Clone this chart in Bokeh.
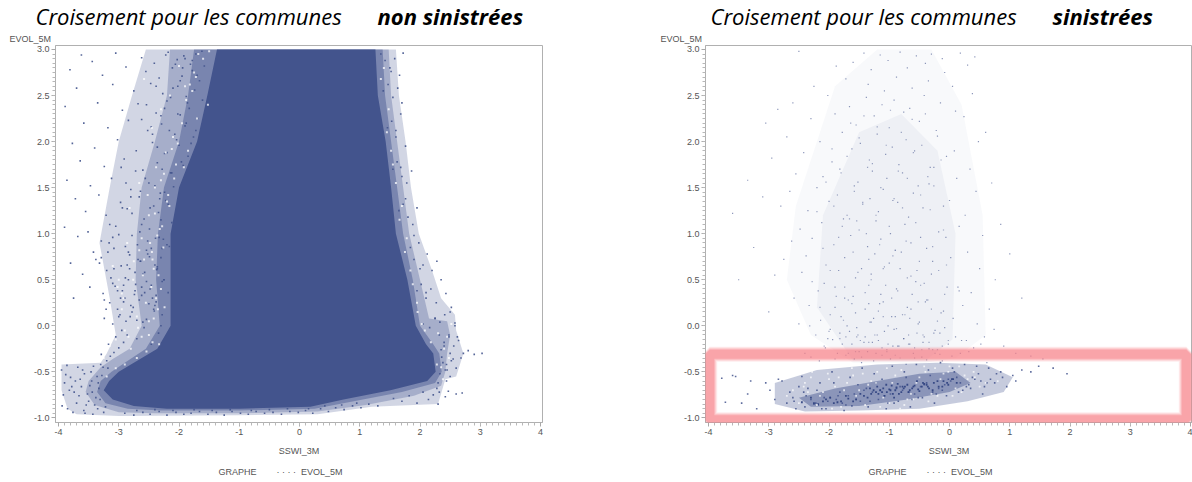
from bokeh.plotting import figure
from bokeh.layouts import row
from bokeh.embed import file_html
from bokeh.resources import INLINE
from bokeh.models import FixedTicker, BoxAnnotation, Range1d, Title

BLUE = "#43548D"
x_ticks = [-4, -3, -2, -1, 0, 1, 2, 3, 4]
y_ticks = [-1.0, -0.5, 0.0, 0.5, 1.0, 1.5, 2.0, 2.5, 3.0]
y_tick_labels = ["-1.0", "-0.5", "0.0", "0.5", "1.0", "1.5", "2.0", "2.5", "3.0"]

# left panel: solid part of the cloud, outline
dense_x = [-1.37, 1.26, 1.30, 1.43, 1.52, 1.60, 1.79, 1.93, 2.10, 2.22, 2.26, 2.12, 1.51, 0.73, 0.18, -1.0, -2.2, -2.75, -3.1, -3.25, -3.16, -3.0, -2.75, -2.36, -2.14, -2.14, -2.14, -2.0, -1.7, -1.53]
dense_y = [3.0, 3.0, 2.5, 2.0, 1.5, 1.0, 0.5, 0.0, -0.2, -0.3, -0.5, -0.6, -0.7, -0.8, -0.88, -0.9, -0.9, -0.87, -0.8, -0.7, -0.6, -0.5, -0.4, -0.25, 0.0, 0.5, 1.0, 1.5, 2.0, 2.5]
# left panel: three half-tone limits around it, from heavy to faint
heavy_x = [-1.75, 1.38, 1.42, 1.52, 1.62, 1.72, 1.88, 2.0, 2.22, 2.32, 2.36, 2.25, 1.7, 0.9, 0.25, -1.0, -2.3, -2.85, -3.22, -3.36, -3.3, -3.12, -2.9, -2.55, -2.32, -2.38, -2.35, -2.25, -2.0, -1.85]
heavy_y = [3.0, 3.0, 2.5, 2.0, 1.5, 1.0, 0.5, 0.0, -0.2, -0.3, -0.5, -0.62, -0.72, -0.82, -0.9, -0.92, -0.92, -0.9, -0.84, -0.72, -0.6, -0.5, -0.4, -0.25, 0.0, 0.5, 1.0, 1.5, 2.0, 2.5]
mid_x = [-2.15, 1.48, 1.52, 1.62, 1.72, 1.82, 2.0, 2.15, 2.45, 2.5, 2.45, 2.42, 2.35, 1.9, 1.1, 0.3, -1.0, -2.4, -3.0, -3.4, -3.55, -3.5, -3.3, -3.1, -2.82, -2.62, -2.72, -2.7, -2.62, -2.4, -2.2]
mid_y = [3.0, 3.0, 2.5, 2.0, 1.5, 1.0, 0.5, 0.08, 0.05, -0.1, -0.3, -0.5, -0.65, -0.76, -0.86, -0.93, -0.95, -0.95, -0.94, -0.86, -0.72, -0.6, -0.45, -0.36, -0.25, 0.0, 0.5, 1.0, 1.5, 2.0, 2.5]
light_x = [-2.55, 1.6, 1.65, 1.76, 1.85, 1.98, 2.2, 2.35, 2.58, 2.6, 2.72, 2.6, 2.42, 2.3, 1.2, 0.3, -1.0, -3.0, -3.7, -3.85, -3.95, -3.95, -3.3, -3.2, -3.05, -3.15, -3.32, -3.15, -3.0, -2.78]
light_y = [3.0, 3.0, 2.5, 2.0, 1.5, 1.0, 0.6, 0.3, 0.12, -0.05, -0.3, -0.55, -0.58, -0.85, -0.88, -0.96, -0.97, -0.98, -0.96, -0.9, -0.7, -0.42, -0.4, -0.3, -0.1, 0.3, 0.9, 1.5, 2.0, 2.5]

# left panel: dots read in the upper-left fringe
ul_x = [-3.62,-3.44,-3.05,-2.62,-2.41,-2.18,-2.03,-1.92,-1.81,-1.72,-3.81,-3.27,-2.88,-2.55,-2.33,-2.11,-1.95,-1.78,-1.66,-1.58,-3.7,-3.1,-2.75,-2.47,-2.27,-2.02,-1.88,-1.74,-1.61,-3.89,-3.35,-2.94,-2.68,-2.38,-2.2,-1.98,-1.83,-1.69,-1.57,-3.58,-3.18,-2.84,-2.52,-2.29,-2.07,-1.9,-1.76,-3.77,-3.4,-3.02,-2.71,-2.44,-2.24,-2.0,-1.85,-3.64,-3.24,-2.91,-2.6,-2.36,-2.14,-1.93,-1.8,-3.86,-3.47,-3.12,-2.8,-2.5,-2.31,-2.09,-3.72,-3.33,-2.97,-2.66,-2.42,-2.22,-3.55,-3.21,-2.86,-2.58,-2.34,-2.12,-3.9,-3.51,-3.15,-2.78,-2.49,-2.26,-3.68,-3.29,-3.0,-2.69,-2.39,-2.16,-3.42,-3.08,-2.82,-2.54,-2.3,-3.8,-3.38,-2.96,-2.64,-2.37,-3.6,-3.2,-2.89,-2.57,-2.28,-3.48,-3.1,-2.73,-2.46,-3.75,-3.26,-2.92,-2.62,-2.4]
ul_y = [2.94,2.87,2.96,2.91,2.85,2.97,2.89,2.93,2.84,2.95,2.78,2.72,2.81,2.76,2.69,2.8,2.71,2.77,2.66,2.82,2.58,2.62,2.55,2.63,2.52,2.6,2.49,2.56,2.45,2.38,2.42,2.34,2.41,2.31,2.44,2.29,2.36,2.25,2.32,2.2,2.15,2.23,2.12,2.19,2.08,2.17,2.05,1.98,1.93,2.02,1.9,1.99,1.87,1.96,1.84,1.79,1.73,1.81,1.69,1.77,1.66,1.74,1.62,1.58,1.52,1.6,1.48,1.55,1.44,1.51,1.38,1.42,1.34,1.4,1.3,1.36,1.24,1.2,1.27,1.16,1.23,1.12,1.07,1.02,1.1,0.98,1.05,0.94,0.97,0.92,0.99,0.88,0.95,0.86,0.8,0.84,0.77,0.82,0.74,0.68,0.72,0.65,0.7,0.61,0.56,0.6,0.52,0.58,0.48,0.42,0.46,0.38,0.44,0.3,0.35,0.26,0.33,0.22]
# left panel: dots read in the lower-left fringe
ll_x = [-3.95,-3.9,-3.86,-3.8,-3.74,-3.68,-3.62,-3.57,-3.5,-3.45,-3.42,-3.38,-3.33,-3.28,-3.22,-3.18,-3.92,-3.85,-3.78,-3.7,-3.64,-3.58,-3.52,-3.46,-3.4,-3.34,-3.3,-3.25,-3.88,-3.82,-3.76,-3.66,-3.6,-3.54,-3.48,-3.43,-3.36,-3.31,-3.94,-3.72,-3.56,-3.44,-3.35,-3.26,-3.2,-3.14,-3.08,-3.0,-2.92,-3.29,-3.17,-3.05,-2.95,-3.24,-3.1,-2.98,-2.88,-3.15,-3.02,-2.9,-2.8,-3.06,-2.94,-2.84,-2.72,-2.6,-2.48,-2.36,-2.25,-2.18,-2.78,-2.66,-2.54,-2.42,-2.3,-2.86,-2.7,-2.58,-2.46,-2.34,-2.22,-2.74,-2.62,-2.5,-2.38,-2.82,-2.64,-2.52,-2.4,-2.28]
ll_y = [-0.48,-0.62,-0.43,-0.56,-0.72,-0.45,-0.66,-0.52,-0.82,-0.6,-0.44,-0.78,-0.68,-0.54,-0.88,-0.46,-0.75,-0.9,-0.66,-0.84,-0.58,-0.92,-0.74,-0.5,-0.86,-0.62,-0.42,-0.94,-0.53,-0.7,-0.94,-0.76,-0.48,-0.86,-0.65,-0.96,-0.55,-0.8,-0.87,-0.6,-0.95,-0.72,-0.9,-0.45,-0.38,-0.33,-0.29,-0.24,-0.18,-0.31,-0.2,-0.12,-0.05,0.08,0.02,0.12,0.05,0.25,0.18,0.3,0.22,0.43,0.38,0.5,0.45,0.56,0.4,0.62,0.5,0.36,0.15,0.28,0.07,0.18,0.0,-0.1,-0.14,-0.02,-0.2,-0.08,-0.16,0.34,0.42,0.24,0.33,0.62,0.7,0.78,0.66,0.84]
# left panel: dots read along the lower edge
be_x = [-2.9,-2.75,-2.6,-2.48,-2.33,-2.2,-2.05,-1.92,-1.8,-1.66,-1.52,-1.38,-1.25,-1.12,-0.98,-0.85,-0.72,-0.58,-0.44,-0.3,-0.16,-0.02,0.1,0.22,0.35,0.48,0.6,0.74,0.88,1.02,1.15,1.3,-2.7,-2.4,-2.1,-1.75,-1.45,-1.15,-0.8,-0.5,-0.2,0.15,0.42,0.7,0.95]
be_y = [-0.95,-0.97,-0.94,-0.96,-0.93,-0.97,-0.94,-0.96,-0.95,-0.93,-0.96,-0.94,-0.97,-0.93,-0.95,-0.96,-0.93,-0.95,-0.94,-0.96,-0.93,-0.94,-0.92,-0.95,-0.9,-0.93,-0.89,-0.91,-0.87,-0.89,-0.85,-0.87,-0.92,-0.91,-0.92,-0.91,-0.92,-0.91,-0.92,-0.91,-0.9,-0.9,-0.87,-0.86,-0.84]
# left panel: dots read in the right fringe
rf_x = [1.35,1.42,1.5,1.58,1.66,1.72,1.39,1.47,1.55,1.63,1.7,1.46,1.53,1.6,1.68,1.76,1.55,1.62,1.7,1.78,1.86,1.65,1.72,1.8,1.88,1.95,1.84,1.9,1.98,2.05,2.12,2.2,2.28,1.95,2.02,2.1,2.18,2.27,2.35,2.43,2.52,2.05,2.16,2.25,2.33,2.41,2.5,2.58,2.32,2.4,2.48,2.56,2.64,2.72,2.8,2.9,3.03,2.36,2.44,2.52,2.6,2.68,2.33,2.42,2.5,2.28,2.22,2.14,2.05,1.95,1.82,1.7,1.56,2.3,2.6,2.7,2.42,2.47]
rf_y = [2.95,2.88,2.8,2.9,2.72,2.96,2.55,2.62,2.48,2.58,2.42,2.15,2.22,2.05,2.3,1.95,1.7,1.78,1.62,1.55,1.68,1.25,1.32,1.18,1.1,1.28,0.85,0.72,0.9,0.66,0.78,0.6,0.7,0.38,0.45,0.3,0.4,0.25,0.5,0.35,0.2,0.02,-0.02,0.08,0.04,0.12,0.15,0.03,-0.1,-0.18,-0.12,-0.22,-0.16,-0.3,-0.27,-0.31,-0.3,-0.34,-0.42,-0.38,-0.46,-0.35,-0.52,-0.48,-0.55,-0.68,-0.75,-0.8,-0.72,-0.84,-0.76,-0.82,-0.79,-0.85,-0.74,-0.73,-0.77,-0.71]
# left panel: more dots read on the side of the half-tone part
ed_x = [-2.2,-2.28,-2.36,-2.44,-2.52,-2.6,-2.68,-2.76,-2.84,-2.92,-3.0,-3.08,-3.16,-3.24,-3.32,-2.25,-2.33,-2.41,-2.49,-2.57,-2.65,-2.73,-2.81,-2.89,-2.97,-3.05,-3.13,-3.21,-3.29,-2.3,-2.38,-2.46,-2.54,-2.62,-2.7,-2.78,-2.86,-2.94,-3.02,-3.1,-3.18,-2.18,-2.24,-2.32,-2.4,-2.48,-2.56,-2.64,-2.72,-2.8,-2.88,-2.96,-1.62,-1.7,-1.78,-1.86,-1.94,-2.02,-2.1,-2.16,-2.24,-1.72,-1.8,-1.88,-1.96,-2.04,-2.12,-2.2,-2.28,-2.36,-2.44,-1.9,-1.98,-2.06,-2.14,-2.22,-2.3,-2.38,-2.46,-2.54,-2.62,1.52,1.6,1.68,1.76,1.9,2.0,2.1,2.25,2.35,2.45,2.55,2.62,2.38,2.48,2.58,2.3,2.4,2.5,2.32,2.44]
ed_y = [0.88,0.12,0.64,0.3,0.92,0.04,0.72,0.2,0.8,0.44,0.1,0.62,0.9,0.28,0.68,0.5,0.96,0.16,0.75,0.36,1.02,0.58,0.1,0.86,0.3,1.08,0.52,0.18,0.74,1.15,0.26,0.84,0.48,1.1,0.06,1.22,0.66,1.28,0.38,0.96,0.8,1.32,1.45,1.38,1.52,1.28,1.6,1.46,1.68,1.4,1.55,1.72,2.98,2.72,2.88,2.42,2.8,2.3,2.58,2.12,2.36,2.12,1.98,2.2,1.78,2.02,1.66,1.88,1.7,1.94,2.08,2.9,2.66,2.84,2.48,2.94,2.28,2.6,2.16,2.4,2.24,2.76,2.12,1.72,1.38,0.98,0.62,0.36,0.08,-0.26,-0.48,-0.36,-0.12,-0.4,-0.1,0.0,-0.62,-0.22,-0.3,-0.72,-0.6]
# left panel: white gaps read inside the half-tone part
gap_x = [-1.6,-1.75,-1.9,-1.52,-1.7,-1.95,-2.1,-1.85,-2.05,-2.25,-2.4,-2.2,-2.5,-2.32,-2.62,-2.45,-2.75,-2.6,-2.3,-2.55,-2.7,-2.9,-3.05,-2.8,-2.95,-3.1,-3.25,1.4,1.48,1.52,1.6,1.66,1.75,1.88,1.95,2.03,2.3,2.4,2.48,2.35,2.45,2.52,-1.5,-1.68,-1.82,-2.0,-2.15,-2.3,-2.45,-2.58,-2.22,-2.38,-2.52,-2.66,-2.82,-2.48,-2.66,-2.86,-3.0,-2.95,-2.42,-2.58,-2.76,-2.92,-2.35,-2.5,-2.68,-2.84,-3.02,-3.15,-1.78,-1.88,-1.72,-2.12,-2.02,-1.92,-2.3,-2.18,-2.08,-2.4,-2.28,-2.16,-2.44,-2.36,-2.26,-2.46,-2.38,-2.34,-2.24,-2.5,-2.42,-2.33,-2.62,-2.54,-2.44,-2.9,-2.7,-3.05,-3.2,1.35,1.45,1.55,1.7,1.78,1.84,1.96,2.08,2.18,2.28,2.38]
gap_y = [2.9,2.75,2.6,2.4,2.25,2.2,2.05,1.9,1.75,1.65,1.5,1.35,1.2,1.05,0.95,0.8,0.7,0.55,0.4,0.25,0.1,-0.05,-0.15,-0.25,0.35,0.65,-0.35,2.8,2.35,1.9,1.55,1.15,0.8,0.45,0.25,0.02,-0.08,-0.25,-0.35,-0.45,-0.12,0.02,2.98,2.95,2.62,2.82,2.5,2.35,2.15,2.68,1.88,1.72,1.42,1.55,1.28,0.9,0.82,0.9,0.5,0.18,0.62,0.72,0.5,0.3,0.18,0.05,-0.02,-0.12,0.42,-0.22,2.55,2.45,2.7,1.92,1.98,1.72,1.58,1.42,1.6,1.22,1.08,1.3,0.72,0.98,0.85,0.42,0.3,0.55,0.2,-0.1,0.08,-0.2,-0.12,-0.28,-0.18,-0.42,-0.35,-0.46,-0.55,2.68,2.1,1.75,1.3,0.95,0.6,0.15,-0.05,-0.18,-0.42,-0.58]

# right panel: density outlines
blob_x = [-2.9, -2.2, -1.2, -0.2, 0.6, 1.05, 0.9, 0.3, -0.5, -1.5, -2.4, -2.9]
blob_y = [-0.62, -0.48, -0.42, -0.4, -0.42, -0.56, -0.72, -0.82, -0.9, -0.92, -0.93, -0.85]
core_x = [-2.5, -1.9, -1.2, -0.5, 0.1, 0.35, 0.0, -0.7, -1.5, -2.3]
core_y = [-0.78, -0.68, -0.6, -0.52, -0.5, -0.62, -0.72, -0.8, -0.87, -0.88]
cloud_x = [-2.55, -1.9, -1.2, -0.3, 0.2, 0.55, 0.6, 0.1, -0.4, -1.6, -2.3, -2.7]
cloud_y = [1.3, 2.6, 3.0, 3.0, 2.4, 1.2, -0.1, -0.35, -0.4, -0.4, -0.1, 0.5]
inner_x = [-2.1, -1.5, -0.8, -0.2, 0.1, 0.05, -0.4, -1.6, -2.2]
inner_y = [1.2, 2.1, 2.3, 1.9, 1.0, -0.15, -0.38, -0.38, 0.2]

# right panel: dots read in the upper cloud
uc_x = [-2.5,-1.42,-1.15,-0.82,-0.55,-0.3,-0.12,0.18,0.42,-1.88,-1.6,-1.3,-1.02,-0.7,-0.4,-0.08,0.3,-2.25,-1.72,-1.35,-1.08,-0.88,-0.62,-0.35,0.05,0.38,-2.85,-2.6,-2.02,-1.66,-1.38,-1.12,-0.92,-0.66,-0.42,-0.15,0.1,-3.05,-2.3,-1.9,-1.55,-1.25,-1.0,-0.76,-0.5,-0.22,0.24,0.6,-2.7,-2.15,-1.78,-1.48,-1.2,-0.95,-0.72,-0.46,-0.2,0.08,0.48,-2.95,-2.42,-1.95,-1.62,-1.33,-1.06,-0.84,-0.58,-0.32,-0.05,0.34,-3.35,-2.55,-2.1,-1.82,-1.52,-1.28,-1.04,-0.78,-0.52,-0.26,0.12,0.7,-3.1,-2.65,-2.2,-1.86,-1.58,-1.32,-1.1,-0.86,-0.6,-0.34,0.0,0.44,-3.6,-2.8,-2.35,-2.0,-1.7,-1.44,-1.18,-0.94,-0.68,-0.44,-0.1,0.26,0.85,-2.48,-2.12,-1.76,-1.5,-1.22,-0.98,-0.74,-0.48,-0.18,0.16,0.55,-3.25,-2.62,-2.28,-1.92,-1.64,-1.36,-1.14,-0.9,-0.64,-0.38,-0.06,0.3,1.0,-2.75,-2.38,-2.05,-1.74,-1.46,-1.24,-1.0,-0.8,-0.54,-0.28,0.02,0.5,-3.5,-2.9,-2.45,-2.08,-1.84,-1.56,-1.3,-1.06,-0.82,-0.56,-0.3,0.14,0.76,-2.58,-2.18,-1.9,-1.6,-1.34,-1.1,-0.88,-0.62,-0.36,-0.04,0.36,1.2,-3.0,-2.33,-1.98,-1.68,-1.4,-1.16,-0.96,-0.7,-0.4,-0.14,0.22,0.66,-2.5,-2.14,-1.8,-1.54,-1.26,-1.02,-0.78,-0.5,-0.24,0.06,0.46,-2.22,-1.94,-1.66,-1.42,-1.2,-0.92,-0.66,-0.42,-0.16,0.2,0.58,-2.4,-2.06,-1.78,-1.5,-1.28,-1.04,-0.84,-0.6,-0.34,-0.02,0.32,-2.3,-1.86,-1.58,-1.36,-1.12,-0.86,-0.58,-0.28,0.04,0.4,0.9,-2.16,-1.72,-1.46,-1.22,-0.98,-0.72,-0.46,-0.12,0.18,0.62,1.35,-2.02,-1.82,-1.62,-1.4,-1.18,-0.94,-0.68,-0.44,-0.2,0.1,0.52,-1.98,-1.7,-1.52,-1.3,-1.08,-0.76,-0.52,-0.26,-0.08,0.28,0.74,-1.9,-1.74,-1.56,-1.34,-1.14,-0.9,-0.64,-0.38,-0.1,0.16,1.1,1.55]
uc_y = [2.98,2.96,2.94,2.97,2.93,2.95,2.9,2.96,2.92,2.82,2.86,2.78,2.88,2.8,2.85,2.75,2.83,2.6,2.68,2.62,2.55,2.7,2.58,2.66,2.6,2.52,2.35,2.42,2.5,2.38,2.48,2.4,2.45,2.36,2.5,2.42,2.33,2.2,2.25,2.3,2.18,2.28,2.15,2.32,2.22,2.12,2.27,2.1,2.05,2.0,2.1,1.98,2.08,1.94,2.02,1.96,2.06,1.9,2.0,1.82,1.88,1.78,1.92,1.8,1.86,1.75,1.9,1.72,1.84,1.7,1.58,1.65,1.62,1.7,1.56,1.68,1.6,1.66,1.52,1.72,1.6,1.55,1.4,1.46,1.5,1.42,1.52,1.38,1.48,1.34,1.44,1.54,1.36,1.46,1.22,1.3,1.25,1.35,1.2,1.32,1.24,1.36,1.18,1.28,1.3,1.2,1.1,1.05,1.12,1.16,1.04,1.14,1.0,1.1,0.96,1.02,1.08,0.98,0.85,0.92,0.95,0.88,0.98,0.86,0.94,0.82,0.9,0.84,0.96,0.8,0.78,0.72,0.76,0.66,0.74,0.62,0.78,0.68,0.8,0.6,0.7,0.74,0.62,0.5,0.55,0.58,0.46,0.6,0.52,0.56,0.44,0.62,0.48,0.56,0.42,0.5,0.3,0.38,0.42,0.32,0.44,0.26,0.4,0.34,0.28,0.42,0.36,0.3,0.15,0.22,0.12,0.28,0.18,0.24,0.1,0.2,0.26,0.14,0.22,0.18,0.02,0.06,0.1,-0.02,0.08,0.0,0.12,0.04,-0.05,0.08,0.02,-0.1,-0.15,-0.06,-0.18,-0.1,-0.04,-0.2,-0.12,-0.08,-0.16,-0.12,-0.3,-0.24,-0.2,-0.28,-0.18,-0.26,-0.22,-0.3,-0.25,-0.2,-0.28,-0.34,-0.3,-0.36,-0.28,-0.32,-0.22,-0.35,-0.26,-0.33,-0.24,-0.22,-0.38,-0.32,-0.4,-0.3,-0.36,-0.42,-0.34,-0.38,-0.3,-0.4,-0.33,-0.14,-0.08,-0.2,-0.12,-0.16,-0.22,-0.1,-0.18,-0.26,-0.12,-0.2,-0.04,0.0,-0.1,0.04,-0.06,-0.14,0.02,-0.08,-0.02,-0.16,-0.04,0.2,0.3,0.14,0.24,0.34,0.1,0.18,0.28,0.16,0.38,-0.3,-0.36]
uc2_x = [-1.95,-1.7,-1.5,-1.28,-1.05,-0.85,-0.6,-0.36,-0.14,-2.05,-1.8,-1.58,-1.36,-1.14,-0.92,-0.7,-0.48,-0.26,-2.2,-1.92,-1.66,-1.44,-1.22,-1.0,-0.78,-0.56,-0.32,-0.1,-2.1,-1.84,-1.6,-1.38,-1.16,-0.94,-0.72,-0.5,-0.28,-0.05,-2.28,-1.98,-1.74,-1.52,-1.3,-1.08,-0.86,-0.64,-0.42,-0.18,-2.15,-1.88,-1.62,-1.4,-1.18,-0.96,-0.74,-0.52,-0.3,-0.08,-2.32,-2.0,-1.76,-1.54,-1.32,-1.1,-0.88,-0.66,-0.44,-0.2,-2.08,-1.82,-1.56,-1.34,-1.12,-0.9,-0.68,-0.46,-0.24,-0.02,-1.9,-1.68,-1.46,-1.26,-1.04,-0.82,-0.58,-0.38,-0.16,-1.72,-1.48,-1.24,-1.02,-0.76,-0.54,-0.34,-0.12,-1.64,-1.42,-1.2,-0.98,-0.8,-0.62,-0.4,-1.78,-1.54,-1.34,-1.1,-0.9,-0.7,-0.48]
uc2_y = [1.92,1.84,2.04,1.76,1.96,1.68,1.88,1.62,1.8,1.56,1.66,1.46,1.72,1.5,1.38,1.6,1.42,1.52,1.24,1.3,1.16,1.34,1.2,1.08,1.28,1.12,1.26,1.04,0.84,0.96,0.8,1.0,0.88,0.76,0.92,0.7,0.86,0.66,0.48,0.6,0.42,0.58,0.5,0.64,0.38,0.54,0.46,0.6,0.2,0.32,0.24,0.36,0.16,0.3,0.12,0.26,0.18,0.34,0.0,-0.06,0.06,-0.12,0.04,0.1,-0.03,0.08,-0.1,0.05,-0.22,-0.14,-0.28,-0.18,-0.24,-0.32,-0.2,-0.26,-0.3,-0.16,-0.36,-0.3,-0.34,-0.38,-0.28,-0.35,-0.24,-0.37,-0.31,-0.12,-0.16,-0.1,-0.2,-0.14,-0.08,-0.18,-0.22,2.2,2.28,2.16,2.34,2.1,2.24,2.3,1.08,1.14,0.72,0.62,0.82,0.52,0.44]
# right panel: dots read in the lower blob
lb_x = [-3.78,-3.6,-3.45,-3.3,-3.72,-3.55,-3.35,-3.2,-3.05,-2.9,-2.78,-2.65,-2.55,-2.45,-2.35,-2.25,-2.15,-2.05,-1.95,-1.85,-1.75,-1.65,-1.55,-1.45,-1.35,-1.25,-1.15,-1.05,-0.95,-0.85,-0.75,-0.65,-0.55,-0.45,-0.35,-0.25,-0.15,-0.05,0.05,0.15,0.25,0.35,0.45,0.55,0.65,0.75,0.85,0.95,1.05,1.2,1.35,1.48,1.72,1.95,-2.98,-2.7,-2.5,-2.3,-2.12,-1.92,-1.72,-1.52,-1.32,-1.12,-0.92,-0.72,-0.52,-0.32,-0.12,0.08,0.28,0.48,0.68,0.88,1.1,-2.84,-2.6,-2.4,-2.2,-2.02,-1.82,-1.62,-1.42,-1.22,-1.02,-0.82,-0.62,-0.42,-0.22,-0.02,0.18,0.38,0.58,0.78,-2.58,-2.38,-2.18,-1.98,-1.78,-1.58,-1.38,-1.18,-0.98,-0.78,-0.58,-0.38,-0.18,0.02,0.22,0.42,0.62,-2.42,-2.22,-2.08,-1.88,-1.68,-1.48,-1.28,-1.08,-0.88,-0.68,-0.48,-0.28,-0.08,0.12,0.32,0.52]
lb_y = [-0.57,-0.54,-0.84,-0.6,-0.83,-0.55,-0.74,-0.9,-0.62,-0.8,-0.6,-0.72,-0.9,-0.55,-0.68,-0.85,-0.62,-0.9,-0.5,-0.76,-0.92,-0.56,-0.8,-0.46,-0.88,-0.52,-0.7,-0.9,-0.44,-0.82,-0.5,-0.88,-0.42,-0.78,-0.48,-0.84,-0.4,-0.76,-0.46,-0.72,-0.42,-0.68,-0.44,-0.74,-0.46,-0.62,-0.5,-0.66,-0.54,-0.48,-0.5,-0.44,-0.46,-0.52,-0.7,-0.84,-0.66,-0.8,-0.9,-0.62,-0.86,-0.64,-0.82,-0.58,-0.84,-0.56,-0.78,-0.54,-0.7,-0.5,-0.66,-0.52,-0.58,-0.56,-0.6,-0.58,-0.78,-0.88,-0.7,-0.82,-0.72,-0.87,-0.7,-0.62,-0.84,-0.66,-0.8,-0.64,-0.74,-0.58,-0.62,-0.56,-0.66,-0.52,-0.82,-0.76,-0.86,-0.78,-0.84,-0.74,-0.68,-0.8,-0.74,-0.7,-0.74,-0.62,-0.68,-0.6,-0.7,-0.58,-0.62,-0.72,-0.84,-0.78,-0.8,-0.76,-0.82,-0.72,-0.76,-0.68,-0.72,-0.66,-0.72,-0.64,-0.56,-0.64,-0.6]
# right panel: dots read inside the darkest band
dk_x = [-2.45,-2.3,-2.18,-2.05,-1.92,-1.8,-1.68,-1.55,-1.42,-1.3,-1.22,-1.15,-1.08,-1.0,-0.94,-0.88,-0.8,-0.74,-0.66,-0.58,-0.5,-0.42,-0.34,-0.26,-0.18,-0.1,-0.02,0.06,0.12,-2.25,-2.1,-1.98,-1.86,-1.72,-1.6,-1.48,-1.36,-1.26,-1.18,-1.1,-1.04,-0.96,-0.9,-0.84,-0.76,-0.68,-0.6,-0.52,-0.44,-0.36,-0.28,-0.2,-0.12,-0.04,0.04,-1.32,-1.2,-1.12,-1.05,-0.98,-0.92,-0.86,-0.78,-0.7,-0.62,-0.54,-0.46,-0.38]
dk_y = [-0.83,-0.78,-0.85,-0.8,-0.84,-0.82,-0.79,-0.8,-0.76,-0.74,-0.72,-0.7,-0.76,-0.69,-0.74,-0.67,-0.72,-0.66,-0.7,-0.65,-0.71,-0.63,-0.68,-0.62,-0.66,-0.6,-0.64,-0.58,-0.62,-0.84,-0.82,-0.78,-0.83,-0.76,-0.82,-0.74,-0.78,-0.7,-0.74,-0.68,-0.72,-0.65,-0.7,-0.74,-0.68,-0.72,-0.66,-0.69,-0.62,-0.66,-0.7,-0.6,-0.66,-0.62,-0.58,-0.68,-0.66,-0.72,-0.64,-0.7,-0.78,-0.63,-0.66,-0.64,-0.68,-0.6,-0.66,-0.64]
# right panel: white gaps read inside the blob
wb_x = [-2.6,-2.4,-2.2,-2.0,-1.8,-1.6,-1.4,-1.2,-1.0,-0.8,-0.6,-0.4,-0.2,0.0,0.2,0.4,0.6,0.8,-2.5,-2.3,-2.1,-1.9,-1.7,-1.5,-1.3,-1.1,-0.9,-0.7,-0.5,-0.3,-0.1,0.1,0.3,0.5,-2.35,-2.15,-1.95,-1.75,-1.55,-1.35,-1.15,-0.95,-0.75,-0.55,-0.35,-0.15,0.05,0.25,-2.42,-2.02,-1.62,-1.22,-0.82,-0.42,-0.02,0.42,-2.7,-2.28,-1.84,-1.44,-1.04,-0.64,-0.24,0.16]
wb_y = [-0.7,-0.62,-0.86,-0.58,-0.88,-0.54,-0.86,-0.5,-0.84,-0.48,-0.8,-0.5,-0.76,-0.44,-0.72,-0.5,-0.62,-0.6,-0.84,-0.56,-0.72,-0.66,-0.62,-0.7,-0.6,-0.78,-0.54,-0.8,-0.56,-0.74,-0.52,-0.68,-0.58,-0.66,-0.72,-0.76,-0.9,-0.7,-0.76,-0.64,-0.88,-0.62,-0.86,-0.62,-0.82,-0.58,-0.76,-0.54,-0.66,-0.52,-0.46,-0.62,-0.9,-0.44,-0.5,-0.56,-0.76,-0.5,-0.56,-0.52,-0.46,-0.74,-0.46,-0.44]

NB = "\u00a0"


def panel(width, border_left, border_right):
    p = figure(width=width, height=482, output_backend="svg", toolbar_location=None, title=None,
               x_range=Range1d(-4.05, 4.033), y_range=Range1d(-1.05, 3.043),
               min_border_left=border_left, min_border_right=border_right,
               min_border_top=45, min_border_bottom=60, background_fill_color="white")
    p.grid.visible = False
    p.outline_line_color = "#b0b0b0"
    p.outline_line_width = 1
    for ax, ticks, step in ((p.xaxis[0], x_ticks, 0.1), (p.yaxis[0], y_ticks, 0.05)):
        minor = [ticks[0] + i * step for i in range(1, int(round((ticks[-1] - ticks[0]) / step)))]
        ax.ticker = FixedTicker(ticks=ticks, minor_ticks=minor)
        ax.axis_line_color = "#b0b0b0"
        ax.major_tick_line_color = "#a8a8a8"
        ax.minor_tick_line_color = "#b8b8b8"
        ax.major_tick_out = 4
        ax.major_tick_in = 0
        ax.minor_tick_out = 3
        ax.minor_tick_in = 0
        ax.major_label_text_font = "Liberation Sans"
        ax.major_label_text_font_size = "9px"
        ax.major_label_text_color = "#555555"
        ax.major_label_standoff = 2
    p.xaxis[0].major_label_overrides = {t: str(t) for t in x_ticks}
    p.yaxis[0].major_label_overrides = dict(zip(y_ticks, y_tick_labels))
    p.yaxis[0].major_label_orientation = "horizontal"
    p.xaxis[0].axis_label = "SSWI_3M"
    p.xaxis[0].axis_label_text_font = "Liberation Sans"
    p.xaxis[0].axis_label_text_font_size = "9px"
    p.xaxis[0].axis_label_text_font_style = "normal"
    p.xaxis[0].axis_label_text_color = "#555555"
    p.xaxis[0].axis_label_standoff = 8
    gap = NB * 8
    p.add_layout(Title(text="GRAPHE" + gap + "·" + NB + "·" + NB + "·" + NB + "·" + NB * 2 + "EVOL_5M",
                       align="left", offset=163, standoff=12,
                       text_font="Liberation Sans", text_font_size="9px", text_color="#555555",
                       text_font_style="normal"), "below")
    return p


def titles(p, evol_offset, left_offset, plain, strong, strong_offset):
    small = dict(text_font="Liberation Sans", text_font_size="9px", text_color="#555555", text_font_style="normal")
    big = dict(text_font="Open Sans", text_font_size="22px", text_color="black", align="left")
    p.add_layout(Title(text="EVOL_5M", align="left", offset=evol_offset, standoff=4, **small), "above")
    p.add_layout(Title(text=NB, align="left", standoff=3, **small), "above")
    p.add_layout(Title(text=plain, offset=left_offset, standoff=-33, text_font_style="italic", **big), "above")
    p.add_layout(Title(text=strong, offset=strong_offset, standoff=-33, text_font_style="bold italic", **big), "above")


def dots(p, x, y, size, alpha, color=BLUE):
    p.scatter(x, y, marker="square", size=size, fill_color=color, line_color=None, fill_alpha=alpha)


left = panel(596, 55, 54)
for xs, ys, alpha in ((light_x, light_y, 0.24), (mid_x, mid_y, 0.3), (heavy_x, heavy_y, 0.45)):
    left.patch(xs, ys, fill_color=BLUE, fill_alpha=alpha, line_color=None)
for xs, ys in ((ul_x, ul_y), (ll_x, ll_y), (be_x, be_y), (rf_x, rf_y), (ed_x, ed_y)):
    dots(left, xs, ys, 1.6, 0.9)
left.patch(dense_x, dense_y, fill_color=BLUE, line_color=None)
dots(left, gap_x, gap_y, 2, 0.75, "white")
titles(left, -46, -20, "Croisement pour les communes", "non sinistrées", 322)

right = panel(596, 109, 0)
right.patch(cloud_x, cloud_y, fill_color=BLUE, fill_alpha=0.035, line_color=None)
right.patch(inner_x, inner_y, fill_color=BLUE, fill_alpha=0.05, line_color=None)
right.patch(blob_x, blob_y, fill_color=BLUE, fill_alpha=0.3, line_color=None)
right.patch(core_x, core_y, fill_color=BLUE, fill_alpha=0.45, line_color=None)
dots(right, uc_x, uc_y, 1.2, 0.6)
dots(right, uc2_x, uc2_y, 1.2, 0.5)
dots(right, lb_x, lb_y, 1.6, 0.85)
dots(right, dk_x, dk_y, 1.8, 0.9, "#2f417f")
dots(right, wb_x, wb_y, 1.8, 0.7, "white")
titles(right, -45, 5, "Croisement pour les communes", "sinistrées", 347)
for width, alpha in ((15, 0.15), (13, 0.2), (11, 0.3), (9, 0.4)):
    right.add_layout(BoxAnnotation(left=-3.98, right=3.93, top=-0.31, bottom=-1.02, level="guide",
                                   fill_alpha=0, line_color="#f88088", line_alpha=alpha, line_width=width))

page = row(left, right)
open("out.html", "w").write(file_html(page, INLINE))
